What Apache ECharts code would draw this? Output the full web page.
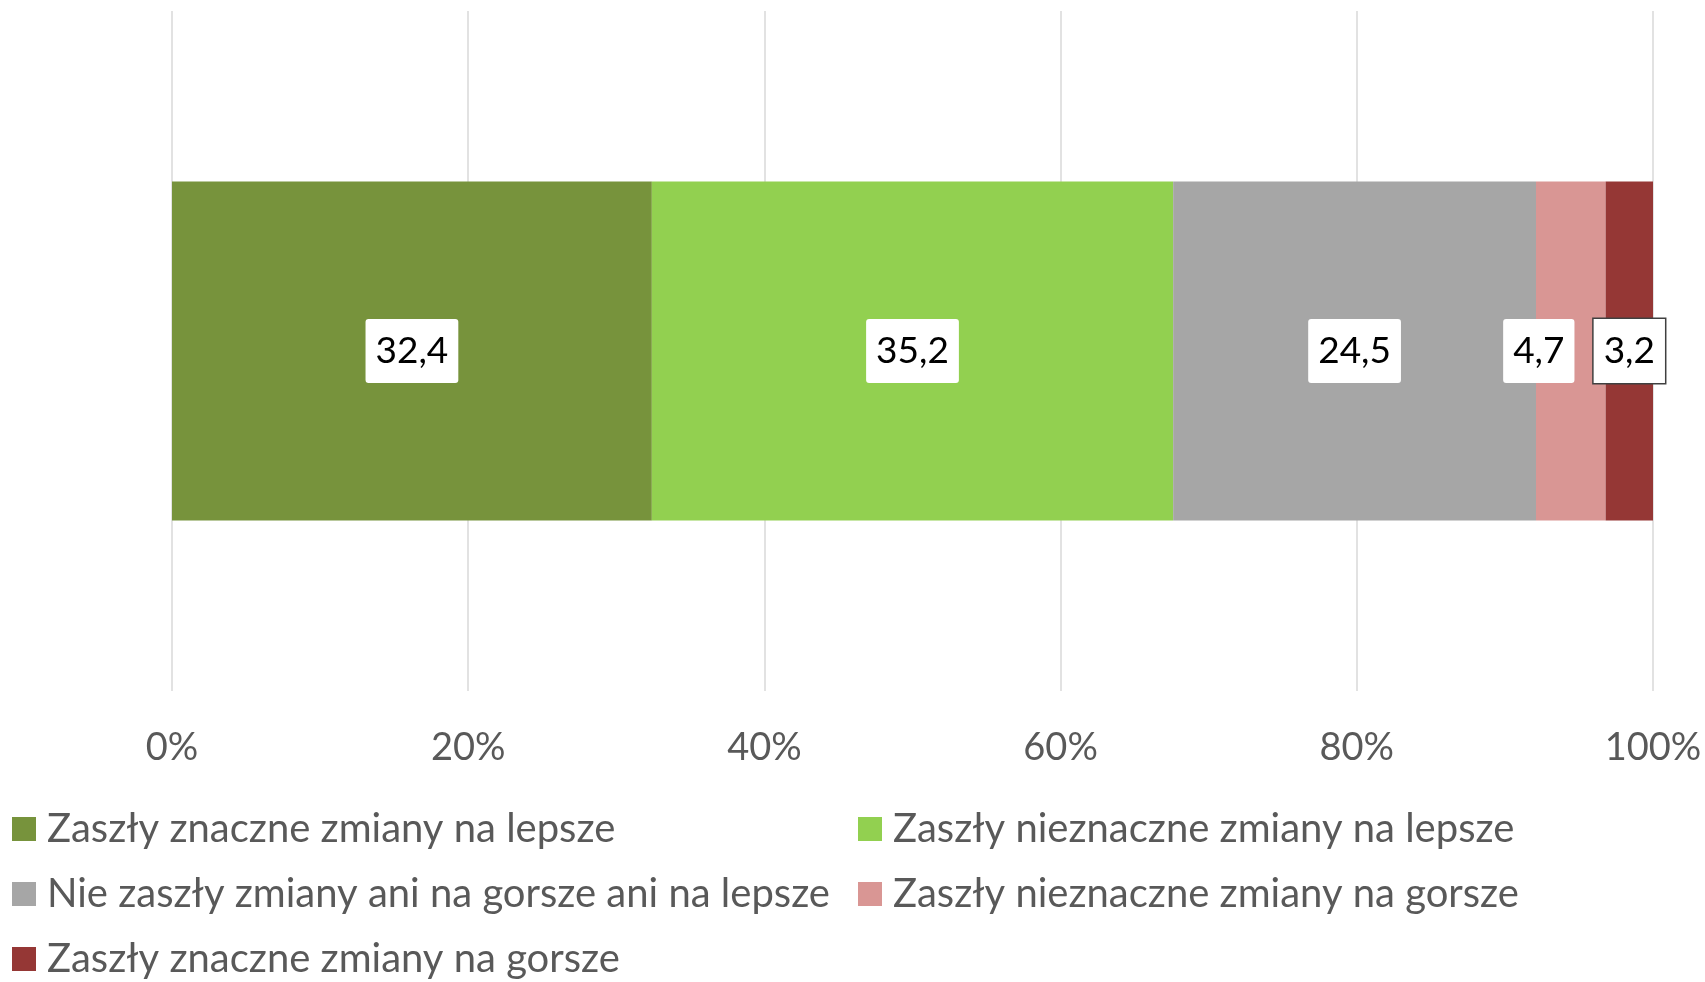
<!DOCTYPE html>
<html>
<head>
<meta charset="utf-8">
<script src="https://cdn.jsdelivr.net/npm/echarts@6/dist/echarts.min.js"></script>
<style>
html,body{margin:0;padding:0;background:#fff;}
#chart{width:1705px;height:982px;}
</style>
</head>
<body>
<div id="chart"></div>
<script>
const categories = [''];
const seriesNames = [
  'Zaszły znaczne zmiany na lepsze',
  'Zaszły nieznaczne zmiany na lepsze',
  'Nie zaszły zmiany ani na gorsze ani na lepsze',
  'Zaszły nieznaczne zmiany na gorsze',
  'Zaszły znaczne zmiany na gorsze'
];
const seriesValues = [32.4, 35.2, 24.5, 4.7, 3.2];
const seriesColors = ['#77933C', '#92D050', '#A6A6A6', '#D99694', '#953735'];
const tickLabels = ['0%', '20%', '40%', '60%', '80%', '100%'];

const FONT = 'Lato';
const chart = echarts.init(document.getElementById('chart'), null, {renderer: 'canvas'});

const legendPos = [
  {left: 7, top: 801},
  {left: 853, top: 801},
  {left: 7, top: 866},
  {left: 853, top: 866},
  {left: 7, top: 931}
];

const series = seriesNames.map((name, i) => ({
  name: name,
  type: 'bar',
  stack: 'total',
  barWidth: 339,
  itemStyle: {color: seriesColors[i]},
  data: [seriesValues[i]],
  label: {
    show: true,
    position: 'inside',
    offset: i === 3 ? [-32, 0] : [0, 0],
    formatter: p => String(p.value).replace('.', ','),
    fontFamily: FONT,
    fontSize: 37,
    color: '#000',
    backgroundColor: '#fff',
    borderColor: i === 4 ? '#404040' : 'transparent',
    borderWidth: i === 4 ? 1.5 : 0,
    borderRadius: i === 4 ? 0 : 3,
    padding: [14, 10, 12, 10],
    lineHeight: 38
  }
}));

chart.setOption({
  animation: false,
  backgroundColor: '#fff',
  grid: {left: 172, right: 52, top: 11, bottom: 291, containLabel: false},
  xAxis: {
    type: 'value',
    min: 0,
    max: 100,
    interval: 20,
    axisLine: {show: false},
    axisTick: {show: false},
    splitLine: {show: true, lineStyle: {color: '#D9D9D9', width: 1.5}},
    axisLabel: {
      formatter: v => tickLabels[Math.round(v / 20)],
      fontFamily: FONT,
      fontSize: 38,
      color: '#595959',
      margin: 38
    }
  },
  yAxis: {
    type: 'category',
    data: categories,
    axisLine: {show: false},
    axisTick: {show: false},
    axisLabel: {show: false}
  },
  legend: seriesNames.map((name, i) => ({
    data: [name],
    left: legendPos[i].left,
    top: legendPos[i].top,
    itemWidth: 24,
    itemHeight: 24,
    icon: 'rect',
    textStyle: {fontFamily: FONT, fontSize: 40, color: '#595959', lineHeight: 46, padding: [0, 0, 0, 6]},
    selectedMode: false
  })),
  series: series
});
</script>
</body>
</html>
